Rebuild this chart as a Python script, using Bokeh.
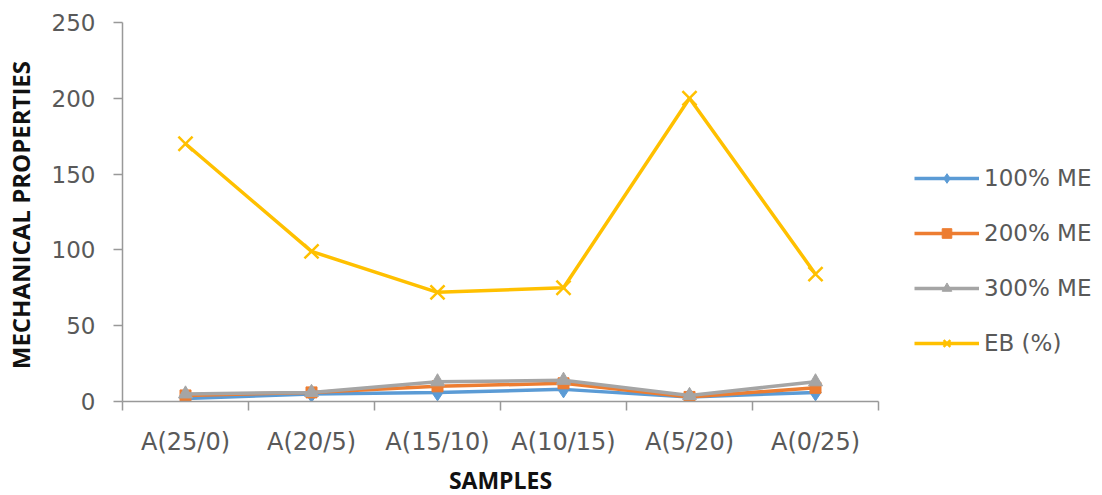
from bokeh.plotting import figure
from bokeh.models import Range1d, FixedTicker, Legend, LegendItem
from bokeh.embed import file_html
from bokeh.resources import INLINE

samples = ["A(25/0)", "A(20/5)", "A(15/10)", "A(10/15)", "A(5/20)", "A(0/25)"]
me100 = [2, 5, 6, 8, 3, 6]
me200 = [4, 6, 10, 12, 3, 9]
me300 = [5, 6, 13, 14, 4, 13]
eb = [170, 99, 72, 75, 200, 84]
y_ticks = [0, 50, 100, 150, 200, 250]

xs = [i + 0.5 for i in range(len(samples))]

p = figure(width=1102, height=495, output_backend="svg", toolbar_location=None,
           x_range=Range1d(0, len(samples)), y_range=Range1d(0, 250),
           min_border_left=121, min_border_right=225, min_border_top=22,
           min_border_bottom=94, frame_width=756, frame_height=379)
p.outline_line_color = None
p.grid.visible = False
p.background_fill_color = "white"
p.border_fill_color = "white"

AX = "#999999"
TXT = "#595959"

# x axis
p.xaxis.ticker = FixedTicker(ticks=xs, minor_ticks=list(range(len(samples) + 1)))
p.xaxis.major_label_overrides = {x: s for x, s in zip(xs, samples)}
p.xaxis.major_tick_out = 0
p.xaxis.major_tick_in = 0
p.xaxis.minor_tick_out = 9
p.xaxis.minor_tick_in = 0
p.xaxis.minor_tick_line_color = AX
p.xaxis.minor_tick_line_width = 1.5
p.xaxis.axis_line_color = AX
p.xaxis.axis_line_width = 1.5
p.xaxis.major_label_standoff = 17
p.xaxis.major_label_text_font = "DejaVu Sans"
p.xaxis.major_label_text_font_size = "24px"
p.xaxis.major_label_text_color = TXT
p.xaxis.axis_label = "SAMPLES"
p.xaxis.axis_label_text_font = "Open Sans"
p.xaxis.axis_label_text_font_style = "bold"
p.xaxis.axis_label_text_font_size = "23px"
p.xaxis.axis_label_text_color = "#111111"
p.xaxis.axis_label_standoff = 5

# y axis
p.yaxis.ticker = FixedTicker(ticks=y_ticks)
p.yaxis.major_tick_out = 9
p.yaxis.major_tick_in = 0
p.yaxis.minor_tick_out = 0
p.yaxis.minor_tick_in = 0
p.yaxis.major_tick_line_color = AX
p.yaxis.major_tick_line_width = 1.5
p.yaxis.axis_line_color = AX
p.yaxis.axis_line_width = 1.5
p.yaxis.major_label_standoff = 18
p.yaxis.major_label_text_font = "DejaVu Sans"
p.yaxis.major_label_text_font_size = "23px"
p.yaxis.major_label_text_color = TXT
p.yaxis.axis_label = "MECHANICAL  PROPERTIES"
p.yaxis.axis_label_text_font = "Open Sans"
p.yaxis.axis_label_text_font_style = "bold"
p.yaxis.axis_label_text_font_size = "24px"
p.yaxis.axis_label_text_color = "#111111"
p.yaxis.axis_label_standoff = 12

series = [
    ("100% ME", me100, "#5B9BD5", "diamond", 17),
    ("200% ME", me200, "#ED7D31", "square", 11),
    ("300% ME", me300, "#A5A5A5", "triangle", 14),
    ("EB (%)", eb, "#FFC000", "x", 20),
]

items = []
for name, vals, col, mk, sz in series:
    ln = p.line(xs, vals, line_color=col, line_width=3.5)
    if mk == "x":
        sc = p.scatter(xs, vals, marker=mk, size=sz, line_color=col, line_width=2.5)
    else:
        sc = p.scatter(xs, vals, marker=mk, size=sz, fill_color=col, line_color=col)
    items.append(LegendItem(label=name, renderers=[ln, sc]))

legend = Legend(items=items, location=(36, 45), orientation="vertical",
                glyph_width=65, glyph_height=24, label_height=24, spacing=29,
                label_standoff=5, padding=0, margin=0,
                border_line_color=None, background_fill_alpha=0,
                label_text_font="DejaVu Sans", label_text_font_size="23px",
                label_text_color=TXT)
p.add_layout(legend, "right")

open("out.html", "w").write(file_html(p, INLINE))
